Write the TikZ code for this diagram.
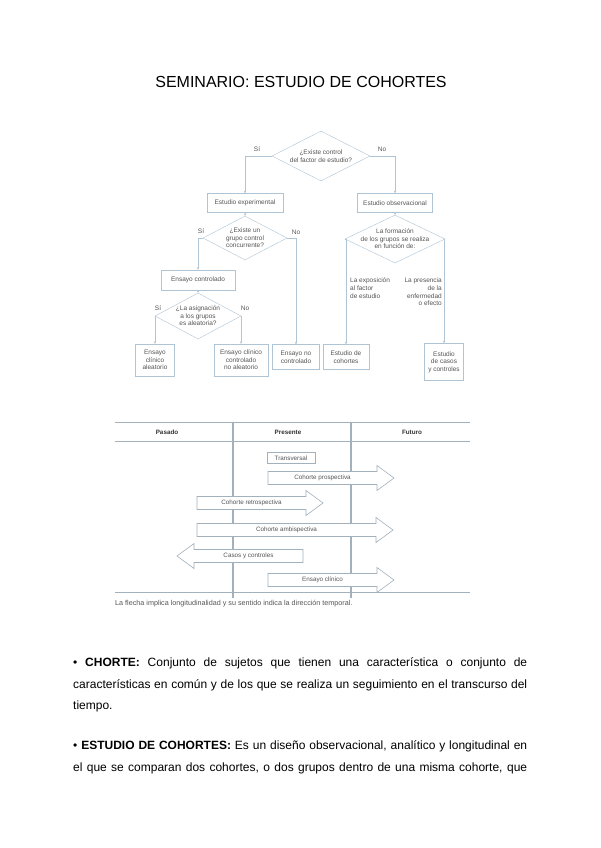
\documentclass[tikz,border=0pt]{standalone}
\usepackage{fontspec}
\setmainfont{Liberation Sans}
\usetikzlibrary{shapes.geometric, arrows.meta}

\definecolor{linea}{HTML}{AFC4D4}
\definecolor{texto}{HTML}{555555}
\definecolor{tabla}{HTML}{A3B1BD}

\newcommand\chico{\fontsize{6.5}{7.6}\selectfont}
\newcommand\tiempo{\fontsize{6.3}{7.4}\selectfont}

\tikzset{
	caja/.style = {draw = linea, fill = white, inner sep = 1pt, align = center, font = \chico, text = texto},
	rombo/.style = {diamond, draw = linea, inner sep = 0pt, aspect = 2},
	etiq/.style = {font = \chico, text = texto, inner sep = 0pt, align = center},
	flujo/.style = {draw = linea, line width = 0.6pt, -{Stealth[length = 2.6pt, width = 2.4pt]}},
	parrafo/.style = {anchor = base west, inner sep = 0pt, font = \fontsize{12}{14}\selectfont}
}

% flecha del esquema temporal: inicio, punta, altura, nombre, texto
\newcommand\flecha[5]{%
	\pgfmathsetmacro\cuello{#2 > #1 ? #2 - 17 : #2 + 17}
	\draw [tabla, fill = white, line width = 0.6pt] (#1,#3-6.5) -- (\cuello,#3-6.5) -- (\cuello,#3-12.5) -- (#2,#3) -- (\cuello,#3+12.5) -- (\cuello,#3+6.5) -- (#1,#3+6.5) -- cycle;
	\node [etiq, font = \tiempo] (#4) at ({(#1+\cuello)/2},#3) {#5};
}

\begin{document}
\begin{tikzpicture}[x = 1pt, y = -1pt]
	\fill [white] (0,0) rectangle (600,848);
	\useasboundingbox (0,0) rectangle (600,848);
	
	\node [font = \fontsize{16}{18}\selectfont] (titulo) at (301,82) {SEMINARIO: ESTUDIO DE COHORTES};
	
	% diagrama de decision
	\begin{scope}
		\node [rombo, minimum width = 98, minimum height = 50] (d1) at (321,156) {};
		\node [etiq] at (d1) {¿Existe control\\del factor de estudio?};
		\node [etiq] (si1) at (257,149) {Sí};
		\node [etiq] (no1) at (382,149) {No};
		
		\node [caja, minimum width = 76, minimum height = 19] (exp) at (245,203) {Estudio experimental};
		\node [caja, minimum width = 75, minimum height = 19] (obs) at (395,203) {Estudio observacional};
		
		\node [rombo, minimum width = 84, minimum height = 44] (d2) at (245,238) {};
		\node [etiq] at (d2) {¿Existe un\\grupo control\\concurrente?};
		\node [etiq] (si2) at (201,231) {Sí};
		\node [etiq] (no2) at (296,232) {No};
		
		\node [caja, minimum width = 74, minimum height = 20] (contr) at (198,280) {Ensayo controlado};
		
		\node [rombo, minimum width = 86, minimum height = 46] (d3) at (198,316) {};
		\node [etiq] at (d3) {¿La asignación\\a los grupos\\es aleatoria?};
		\node [etiq] (si3) at (158,308) {Sí};
		\node [etiq] (no3) at (245,308) {No};
		
		\node [caja, minimum width = 39, minimum height = 32] (alea) at (155,360) {Ensayo\\clínico\\aleatorio};
		\node [caja, minimum width = 54, minimum height = 32] (noalea) at (241,360) {Ensayo clínico\\controlado\\no aleatorio};
		\node [caja, minimum width = 47, minimum height = 25] (nocontr) at (296,357) {Ensayo no\\controlado};
		
		\node [rombo, minimum width = 100, minimum height = 48] (d4) at (395,239) {};
		\node [etiq] at (d4) {La formación\\de los grupos se realiza\\en función de:};
		\node [etiq, anchor = north west, align = left] (expo) at (350,278) {La exposición\\al factor\\de estudio};
		\node [etiq, anchor = north east, align = right] (enfer) at (442,278) {La presencia\\de la\\enfermedad\\o efecto};
		
		\node [caja, minimum width = 46, minimum height = 25] (coh) at (346,357) {Estudio de\\cohortes};
		\node [caja, minimum width = 39, minimum height = 37] (casos) at (444,362) {Estudio\\de casos\\y controles};
		
		\draw [flujo] (d1.west) -| (exp.north);
		\draw [flujo] (d1.east) -| (obs.north);
		\draw [flujo] (exp.south) -- (d2.north);
		\draw [flujo] (obs.south) -- (d4.north);
		\draw [flujo] (d2.west) -| (contr.north);
		\draw [flujo] (d2.east) -| (nocontr.north);
		\draw [flujo] (contr.south) -- (d3.north);
		\draw [flujo] (d3.west) -| (alea.north);
		\draw [flujo] (d3.east) -| (noalea.north);
		\draw [flujo] (d4.west) -| (coh.north);
		\draw [flujo] (d4.east) -| (casos.north);
	\end{scope}
	
	% esquema temporal
	\begin{scope}
		\draw [tabla, line width = 0.8pt] (115,422) -- (470,422);
		\draw [tabla, line width = 0.8pt] (115,441) -- (470,441);
		\draw [tabla, line width = 0.8pt] (115,592) -- (470,592);
		\draw [tabla, line width = 1.2pt] (233,422) -- (233,598);
		\draw [tabla, line width = 1.2pt] (351,422) -- (351,598);
		
		\node [etiq, text = black!80, font = \tiempo\bfseries] (pasado) at (167,432) {Pasado};
		\node [etiq, text = black!80, font = \tiempo\bfseries] (presente) at (288,432) {Presente};
		\node [etiq, text = black!80, font = \tiempo\bfseries] (futuro) at (412,432) {Futuro};
		
		\node [caja, draw = tabla, font = \tiempo, minimum width = 48, minimum height = 11] (trans) at (291,458) {Transversal};
		\flecha{268}{394}{478}{prosp}{Cohorte prospectiva}
		\flecha{197}{323}{503}{retro}{Cohorte retrospectiva}
		\flecha{197}{393}{530}{ambi}{Cohorte ambispectiva}
		\flecha{303}{177}{556}{casoscontr}{Casos y controles}
		\flecha{268}{394}{580}{ensayo}{Ensayo clínico}
		
		\node [etiq, anchor = west, font = \fontsize{7.2}{8.4}\selectfont] (nota) at (115,604) {La flecha implica longitudinalidad y su sentido indica la dirección temporal.};
	\end{scope}
	
	% texto
	\node [parrafo] (l1) at (73,666) {\makebox[454pt][s]{• \textbf{CHORTE:} Conjunto de sujetos que tienen una característica o conjunto de}};
	\node [parrafo] (l2) at (73,688) {\makebox[454pt][s]{características en común y de los que se realiza un seguimiento en el transcurso del}};
	\node [parrafo] (l3) at (73,709) {tiempo.};
	\node [parrafo] (l4) at (73,749) {\makebox[454pt][s]{• \textbf{ESTUDIO DE COHORTES:} Es un diseño observacional, analítico y longitudinal en}};
	\node [parrafo] (l5) at (73,771) {\makebox[454pt][s]{el que se comparan dos cohortes, o dos grupos dentro de una misma cohorte, que}};
\end{tikzpicture}
\end{document}
